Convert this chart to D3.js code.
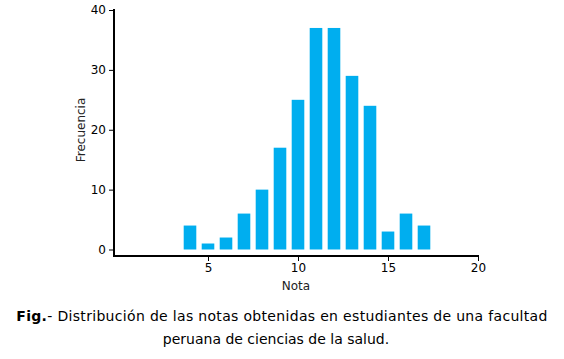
<!DOCTYPE html>
<html><head><meta charset="utf-8">
<script src="https://cdn.jsdelivr.net/npm/d3@7"></script>
<style>
body{margin:0;background:#fff;}
svg{display:block;}
</style></head>
<body>
<svg id="c" width="564" height="359"></svg>
<script>
const notas = [4,5,6,7,8,9,10,11,12,13,14,15,16,17];
const frecuencias = [4,1,2,6,10,17,25,37,37,29,24,3,6,4];
const xTicks = [5,10,15,20];
const yTicks = [0,10,20,30,40];
const xLabel = "Nota";
const yLabel = "Frecuencia";
const captionBold = "Fig.";
const caption1 = "- Distribución de las notas obtenidas en estudiantes de una facultad";
const caption2 = "peruana de ciencias de la salud.";

const svg = d3.select("#c");
const font = "DejaVu Sans, Verdana, sans-serif";
const x = d3.scaleLinear().domain([0,20]).range([118,478]);
const y = d3.scaleLinear().domain([0,40]).range([249.5,10]);
const axisX0 = 114, axisY = 256;
const barW = 12.6;

svg.append("g").selectAll("rect").data(notas).join("rect")
  .attr("x", d => x(d) - barW/2)
  .attr("y", (d,i) => y(frecuencias[i]))
  .attr("width", barW)
  .attr("height", (d,i) => y(0) - y(frecuencias[i]))
  .attr("fill", "#00AEEF");

// y axis
const ya = svg.append("g").attr("transform", `translate(${axisX0},0)`)
  .call(d3.axisLeft(y).tickValues(yTicks).tickSize(5).tickPadding(3));
ya.select(".domain").remove();
ya.selectAll("text").attr("font-family", font).attr("font-size", 12).attr("fill","#000");
ya.selectAll("line").attr("stroke","#000");

// x axis
const xa = svg.append("g").attr("transform", `translate(0,${axisY})`)
  .call(d3.axisBottom(x).tickValues(xTicks).tickSize(5).tickPadding(2));
xa.select(".domain").remove();
xa.selectAll("text").attr("font-family", font).attr("font-size", 12).attr("fill","#000");
xa.selectAll("line").attr("stroke","#000");

// axis lines
svg.append("line").attr("x1", axisX0).attr("x2", axisX0).attr("y1", y(40)-1).attr("y2", axisY+1)
  .attr("stroke","#000").attr("stroke-width",2);
svg.append("line").attr("x1", axisX0-1).attr("x2", x(20)+1).attr("y1", axisY).attr("y2", axisY)
  .attr("stroke","#000").attr("stroke-width",2);

svg.append("text").attr("x", x(10)-2).attr("y", 290).attr("text-anchor","middle")
  .attr("font-family", font).attr("font-size", 12).attr("fill","#222").text(xLabel);
svg.append("text").attr("transform","translate(85,130) rotate(-90)").attr("text-anchor","middle")
  .attr("font-family", font).attr("font-size", 12).attr("fill","#222").text(yLabel);

const cap = svg.append("text").attr("x", 282).attr("y", 321).attr("text-anchor","middle")
  .attr("font-family", font).attr("font-size", 14).attr("letter-spacing", 0.32).attr("fill","#000");
cap.append("tspan").attr("font-weight","bold").text(captionBold);
cap.append("tspan").text(caption1);
svg.append("text").attr("x", 276).attr("y", 344).attr("text-anchor","middle")
  .attr("font-family", font).attr("font-size", 14).attr("fill","#000").text(caption2);
</script>
</body></html>
